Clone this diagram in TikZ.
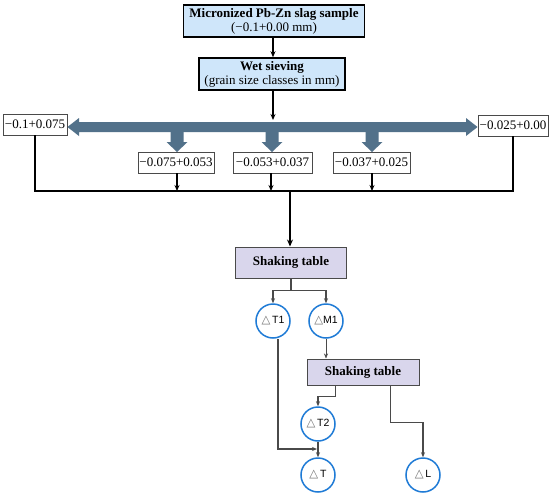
\documentclass[tikz,border=0pt]{standalone}
\usepackage{fontspec}
\setmainfont{Liberation Serif}
\newfontfamily\arialf{Liberation Sans}
\newfontfamily\dejavu{DejaVu Sans}
\usetikzlibrary{arrows.meta,calc}
\definecolor{boxblue}{HTML}{CFE6FA}
\definecolor{lav}{HTML}{D9D6EC}
\definecolor{steel}{HTML}{52718A}
\definecolor{circblue}{HTML}{1F7BD6}
\definecolor{lgray}{HTML}{4A4A4A}
\newcommand{\tri}{{\fontsize{11.5}{11.5}\dejavu\color{gray!90!black}△}}
\begin{document}
\begin{tikzpicture}[x=1pt,y=-1pt,
  font=\fontsize{13}{14}\selectfont,
  headbox/.style={draw=black,line width=1.6pt,fill=boxblue,inner sep=0pt,align=center,minimum height=32pt},
  sizebox/.style={draw=lgray,line width=0.9pt,fill=white,inner sep=0pt,minimum height=21pt},
  shakebox/.style={draw=lgray,line width=1pt,fill=lav,inner sep=0pt,font=\fontsize{13}{14}\selectfont\bfseries},
  prod/.style={circle,draw=circblue,line width=1.5pt,minimum size=34pt,inner sep=0pt,font=\fontsize{10.5}{10.5}\arialf},
  blk/.style={draw=black,line width=1.3pt},
  blkarr/.style={blk,-{Stealth[length=6pt,width=5pt]}},
  thickarr/.style={draw=black,line width=2pt,-{Stealth[length=7pt,width=6pt]}},
  garr/.style={draw=lgray,line width=1.2pt,-{Stealth[length=5pt,width=4pt]}},
  gline/.style={draw=lgray,line width=1.2pt},
  thinarr/.style={draw=lgray,line width=0.6pt,-{Stealth[length=5pt,width=4pt]}}
]
\useasboundingbox (0,0) rectangle (550,496);
\fill[white] (0,0) rectangle (550,496);

% top boxes
\node[headbox,minimum width=181pt] (top) at (274,21) {\textbf{Micronized Pb-Zn slag sample}\\(−0.1+0.00 mm)};
\node[headbox,minimum width=146pt] (wet) at (272,74) {\textbf{Wet sieving}\\(grain size classes in mm)};
\coordinate (band) at (273,120);
\draw[blkarr] (top.south -| band) -- (wet.north -| band);

% size boxes
\node[sizebox,minimum width=64pt] (b1) at (35,124.5) {−0.1+0.075};
\node[sizebox,minimum width=70pt] (b5) at (513,125.5) {−0.025+0.00};
\node[sizebox,minimum width=76pt] (b2) at (176,162.5) {−0.075+0.053};
\node[sizebox,minimum width=79pt] (b3) at (272.5,162.5) {−0.053+0.037};
\node[sizebox,minimum width=77pt] (b4) at (371.5,162.5) {−0.037+0.025};

% big distribution arrow
\fill[steel] (b1.east |- 0,127) -- (79,118) -- (79,122) -- (466,122) -- (466,118) -- (b5.west |- 0,127) -- (466,136) -- (466,132) -- (79,132) -- (79,136) -- cycle;
\foreach \c in {177,272,372}{
  \fill[steel] (\c-6.5,130) -- (\c+6.5,130) -- (\c+6.5,142) -- (\c+10.5,142) -- (\c,152) -- (\c-10.5,142) -- (\c-6.5,142) -- cycle;
}
\draw[blkarr] (wet.south -| band) -- (band);

% collecting bus
\coordinate (bus) at (290,191);
\draw[blk] (b1.south) -- (b1.south |- bus) -- (b5.south |- bus) -- (b5.south);
\draw[blkarr] (b2.south -| 177,0) -- (bus -| 177,0);
\draw[blkarr] (b3.south -| 271,0) -- (bus -| 271,0);
\draw[blkarr] (b4.south -| 372,0) -- (bus -| 372,0);

% shaking table 1
\node[shakebox,minimum width=111pt,minimum height=31pt] (st1) at (291,262.5) {Shaking table};
\draw[thickarr] (bus) -- (st1.north -| bus);

\node[prod] (t1) at (273,321) {\tri\,T1};
\node[prod] (m1) at (326,321) {\tri M1};
\draw[gline] (st1.south) -- ++(0,12) coordinate (s1);
\draw[garr] (s1) -| (t1.north);
\draw[garr] (s1) -| (m1.north);

% shaking table 2
\node[shakebox,minimum width=112pt,minimum height=26pt] (st2) at (363,372) {Shaking table};
\draw[thinarr] (m1.south) -- (m1.south |- st2.north);

\node[prod] (t2) at (318,424) {\tri\,T2};
\node[prod] (tt) at (318,475) {\tri\,T};
\node[prod] (ll) at (423,475) {\tri\,L};

\draw[garr] ($(st2.south west)+(29,0)$) -- ++(0,11) -| (t2.north);
\draw[garr] ($(st2.south west)+(84,0)$) -- ++(0,37) -| (ll.north);
\coordinate (tj) at (317,449);
\draw[garr] ($(t1.south)+(5,0)$) |- (tj);
\draw[garr] (t2.south) -- (tt.north);
\end{tikzpicture}
\end{document}
